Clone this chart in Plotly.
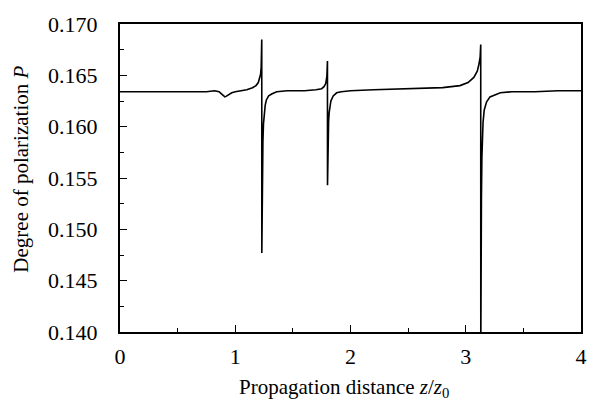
import plotly.graph_objects as go

z = [0.0, 0.2, 0.4, 0.6, 0.75, 0.82, 0.86, 0.88, 0.90, 0.91, 0.92, 0.94, 0.97, 1.0,
     1.05, 1.1, 1.15, 1.18, 1.2, 1.21, 1.22, 1.225, 1.228, 1.230,
     1.2305, 1.233, 1.236, 1.24, 1.245, 1.25, 1.26, 1.27, 1.29, 1.32, 1.36, 1.45, 1.6,
     1.7, 1.75, 1.77, 1.785, 1.795, 1.80,
     1.8005, 1.803, 1.806, 1.81, 1.815, 1.82, 1.83, 1.85, 1.88, 1.92, 2.0, 2.2, 2.5, 2.8,
     2.95, 3.02, 3.07, 3.1, 3.115, 3.125, 3.13,
     3.1305, 3.136, 3.14, 3.145, 3.15, 3.16, 3.18, 3.21, 3.25, 3.3, 3.4, 3.6, 3.8, 4.0]
P = [0.1634, 0.1634, 0.1634, 0.1634, 0.1634, 0.1635, 0.1634, 0.1632, 0.16295, 0.1629, 0.16295, 0.1631, 0.1633, 0.1634,
     0.1635, 0.1636, 0.1638, 0.1640, 0.1643, 0.1646, 0.1651, 0.1658, 0.1667, 0.1685,
     0.1477, 0.1520, 0.1560, 0.1585, 0.1603, 0.1612, 0.1621, 0.1626, 0.1630, 0.1632, 0.1634, 0.1635, 0.1635,
     0.1636, 0.1637, 0.1639, 0.1642, 0.1649, 0.1664,
     0.1543, 0.1570, 0.1590, 0.1605, 0.1614, 0.1619, 0.1625, 0.1630, 0.1633, 0.1634, 0.1635, 0.1636, 0.1637, 0.1638,
     0.1640, 0.1643, 0.1648, 0.1654, 0.1661, 0.1668, 0.1680,
     0.1380, 0.1530, 0.1570, 0.1592, 0.1604, 0.1616, 0.1624, 0.1629, 0.1631, 0.1633, 0.1634, 0.1634, 0.1635, 0.1635]

x_title = "Propagation distance <i>z</i>/<i>z</i><sub>0</sub>"
y_title = "Degree of polarization <i>P</i>"

fig = go.Figure()
fig.add_trace(go.Scatter(x=z, y=P, mode="lines", line=dict(color="black", width=1.6),
                         showlegend=False))

font = dict(family="Liberation Serif", color="black")
fig.update_layout(
    width=599, height=401,
    margin=dict(l=120, r=13, t=16, b=69),
    paper_bgcolor="white", plot_bgcolor="white",
    font=dict(size=18, **font),
)
fig.update_xaxes(
    range=[0, 4], dtick=1, tick0=0, showgrid=False, zeroline=False,
    showline=True, linecolor="black", linewidth=2, mirror=True,
    ticks="inside", ticklen=7, tickwidth=1.2, tickcolor="black",
    minor=dict(ticks="inside", ticklen=4, dtick=0.5, tickcolor="black", tickwidth=1.2, showgrid=False),
    tickfont=dict(size=22, **font), ticklabelstandoff=4,
)
fig.update_yaxes(
    range=[0.140, 0.170], dtick=0.005, tick0=0.140, tickformat=".3f", showgrid=False, zeroline=False,
    showline=True, linecolor="black", linewidth=2, mirror=True,
    ticks="inside", ticklen=7, tickwidth=1.2, tickcolor="black",
    minor=dict(ticks="inside", ticklen=4, dtick=0.0025, tickcolor="black", tickwidth=1.2, showgrid=False),
    tickfont=dict(size=22, **font), ticklabelstandoff=16,
)
fig.add_annotation(text=x_title, xref="paper", yref="paper", x=0.485, y=-0.182,
                   xanchor="center", yanchor="middle", showarrow=False,
                   font=dict(size=21, **font))
fig.add_annotation(text=y_title, xref="paper", yref="paper", x=-0.215, y=0.53,
                   xanchor="center", yanchor="middle", textangle=-90, showarrow=False,
                   font=dict(size=21, **font))
fig.write_html("out.html")
